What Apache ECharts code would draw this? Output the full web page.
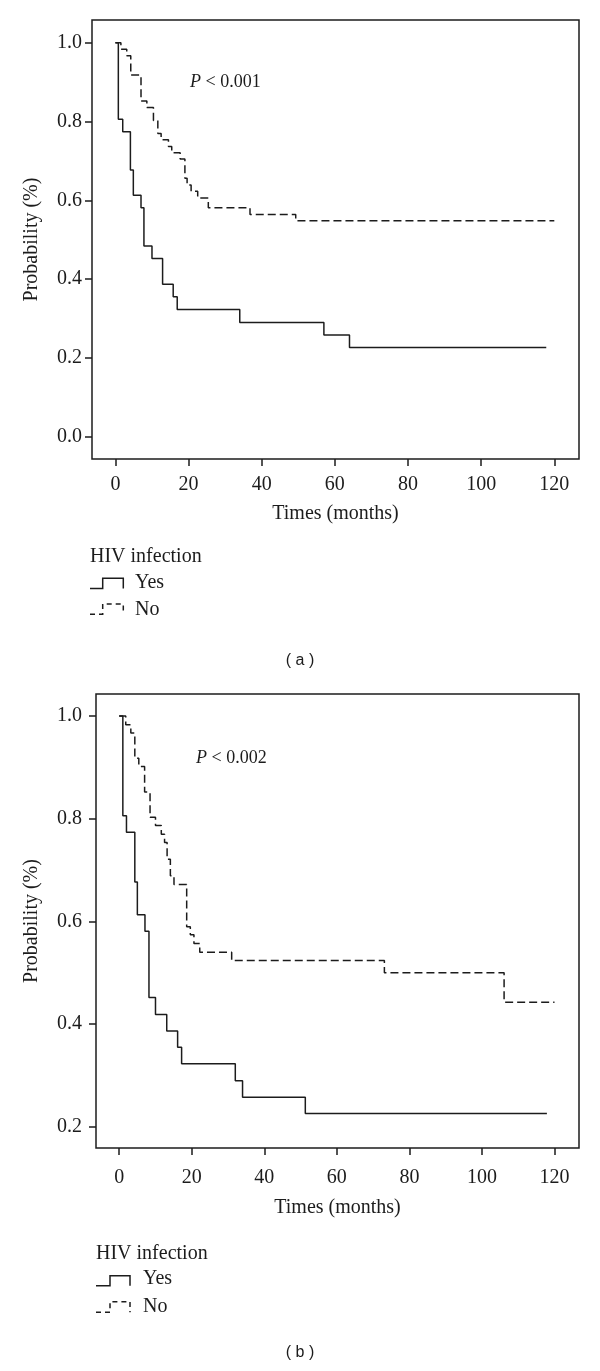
<!DOCTYPE html>
<html>
<head>
<meta charset="utf-8">
<script src="https://cdn.jsdelivr.net/npm/echarts@6/dist/echarts.min.js"></script>
<style>
html,body{margin:0;padding:0;background:#fff;}
#chart{width:600px;height:1371px;}
</style>
</head>
<body>
<div id="chart"></div>
<script>
// ---- data ----
const xTicks = [0, 20, 40, 60, 80, 100, 120];
const yTicksA = [0.0, 0.2, 0.4, 0.6, 0.8, 1.0];
const yTicksB = [0.2, 0.4, 0.6, 0.8, 1.0];

// Panel (a)
const yesA_t = [0, 0.8, 2.0, 4.1, 4.9, 7.0, 7.8, 10.0, 12.9, 15.8, 16.9, 34.0, 57.0, 64.0, 117.8];
const yesA_s = [1, 0.806, 0.774, 0.677, 0.613, 0.581, 0.484, 0.452, 0.387, 0.355, 0.323, 0.290, 0.258, 0.226, 0.226];
const noA_t = [0, 1.5, 3.1, 4.2, 7.0, 8.6, 10.4, 11.6, 12.5, 14.5, 15.4, 17.7, 19.0, 19.6, 20.7, 22.5, 25.4, 36.8, 49.3, 120];
const noA_s = [1, 0.984, 0.967, 0.918, 0.852, 0.836, 0.803, 0.770, 0.754, 0.737, 0.721, 0.705, 0.656, 0.639, 0.623, 0.606, 0.581, 0.564, 0.548, 0.548];

// Panel (b)
const yesB_t = [0, 1.0, 2.0, 4.3, 5.0, 7.1, 8.2, 10.0, 13.1, 16.1, 17.2, 32.0, 34.0, 51.3, 117.9];
const yesB_s = [1, 0.806, 0.774, 0.677, 0.613, 0.581, 0.452, 0.419, 0.387, 0.355, 0.323, 0.290, 0.258, 0.226, 0.226];
const noB_t = [0, 1.8, 3.2, 4.3, 5.4, 7.0, 8.5, 10.0, 11.6, 12.5, 13.2, 14.1, 15.1, 18.6, 19.6, 20.6, 22.2, 31.0, 73.1, 106.1, 120];
const noB_s = [1, 0.983, 0.967, 0.918, 0.902, 0.852, 0.803, 0.787, 0.770, 0.754, 0.721, 0.689, 0.672, 0.590, 0.574, 0.557, 0.540, 0.524, 0.500, 0.443, 0.443];

const pTextA = '0.001';
const pTextB = '0.002';
const legendTitle = 'HIV infection';
const groupNames = ['Yes', 'No'];
const xName = 'Times (months)';
const yName = 'Probability (%)';

// ---- chart ----
const INK = '#1c1c1c';
const SERIF = '"Liberation Serif", "Times New Roman", serif';
const SANS = '"Liberation Sans", Arial, sans-serif';
const FS = 20;
const pair = (t, s) => t.map((v, i) => [v, s[i]]);

function xAxis(gi, gap, margin) {
  return {
    type: 'value', gridIndex: gi, min: -6.4, max: 126.75,
    axisLine: { show: false, onZero: false },
    splitLine: { show: false },
    axisTick: { show: true, customValues: xTicks, length: 7, lineStyle: { color: INK, width: 1.5 } },
    axisLabel: { customValues: xTicks, margin: margin, fontSize: FS, fontFamily: SERIF, color: INK },
    name: xName, nameLocation: 'middle', nameGap: gap,
    nameTextStyle: { fontSize: FS, fontFamily: SERIF, color: INK }
  };
}
function yAxis(gi, min, max, ticks, gap, margin) {
  return {
    type: 'value', gridIndex: gi, min: min, max: max,
    axisLine: { show: false, onZero: false },
    splitLine: { show: false },
    axisTick: { show: true, customValues: ticks, length: 7, lineStyle: { color: INK, width: 1.5 } },
    axisLabel: { customValues: ticks, margin: margin, fontSize: FS, fontFamily: SERIF, color: INK,
                 formatter: v => v.toFixed(1) },
    name: yName, nameLocation: 'middle', nameGap: gap,
    nameTextStyle: { fontSize: FS, fontFamily: SERIF, color: INK }
  };
}
function km(name, data, gi, dashed) {
  return {
    type: 'line', name: name, xAxisIndex: gi, yAxisIndex: gi, step: 'end',
    data: data, symbol: 'none', silent: true, animation: false,
    lineStyle: { color: INK, width: 1.5, type: dashed ? [8, 4] : 'solid' }
  };
}
function legendKey(x0, xs, x1, yTop, yBot, dashed) {
  return {
    type: 'polyline',
    shape: { points: [[x0, yBot], [xs, yBot], [xs, yTop], [x1, yTop], [x1, yBot]] },
    style: { stroke: INK, lineWidth: 1.5, fill: null, lineDash: dashed ? [5, 4] : null }
  };
}
function txt(x, y, text, size, font, align) {
  return {
    type: 'text', x: x, y: y,
    style: { text: text, fontSize: size, fontFamily: font, fill: INK, textAlign: align || 'left', textVerticalAlign: 'middle' }
  };
}
function pText(x, y, val) {
  return {
    type: 'text', x: x, y: y,
    style: {
      text: '{i|P} < ' + val, fontSize: 18, fontFamily: SERIF, fill: INK, textVerticalAlign: 'middle',
      rich: { i: { fontStyle: 'italic', fontSize: 18, fontFamily: SERIF, fill: INK } }
    }
  };
}

const chart = echarts.init(document.getElementById('chart'), null, { renderer: 'canvas' });
chart.setOption({
  backgroundColor: '#fff',
  animation: false,
  grid: [
    { left: 92, top: 20, width: 487, height: 439, show: true, borderColor: INK, borderWidth: 1.5 },
    { left: 96, top: 694, width: 483, height: 454, show: true, borderColor: INK, borderWidth: 1.5 }
  ],
  xAxis: [xAxis(0, 45, 16), xAxis(1, 50, 20)],
  yAxis: [yAxis(0, -0.057, 1.058, yTicksA, 50, 10), yAxis(1, 0.159, 1.043, yTicksB, 54, 14)],
  series: [
    km(groupNames[0], pair(yesA_t, yesA_s), 0, false),
    km(groupNames[1], pair(noA_t, noA_s), 0, true),
    km(groupNames[0], pair(yesB_t, yesB_s), 1, false),
    km(groupNames[1], pair(noB_t, noB_s), 1, true)
  ],
  graphic: [
    pText(190, 82, pTextA),
    pText(196, 758, pTextB),
    txt(90, 557, legendTitle, FS, SERIF),
    legendKey(90, 102.7, 123.3, 578.3, 588.5, false),
    txt(135, 583, groupNames[0], FS, SERIF),
    legendKey(90, 102.7, 123.3, 604, 614.3, true),
    txt(135, 610, groupNames[1], FS, SERIF),
    txt(96, 1254, legendTitle, FS, SERIF),
    legendKey(96, 110, 130, 1275.7, 1285.7, false),
    txt(143, 1279, groupNames[0], FS, SERIF),
    legendKey(96, 110, 130, 1301.7, 1312.3, true),
    txt(143, 1307, groupNames[1], FS, SERIF),
    txt(300, 661, '( a )', 16, SANS, 'center'),
    txt(300, 1353, '( b )', 16, SANS, 'center')
  ]
});
</script>
</body>
</html>
